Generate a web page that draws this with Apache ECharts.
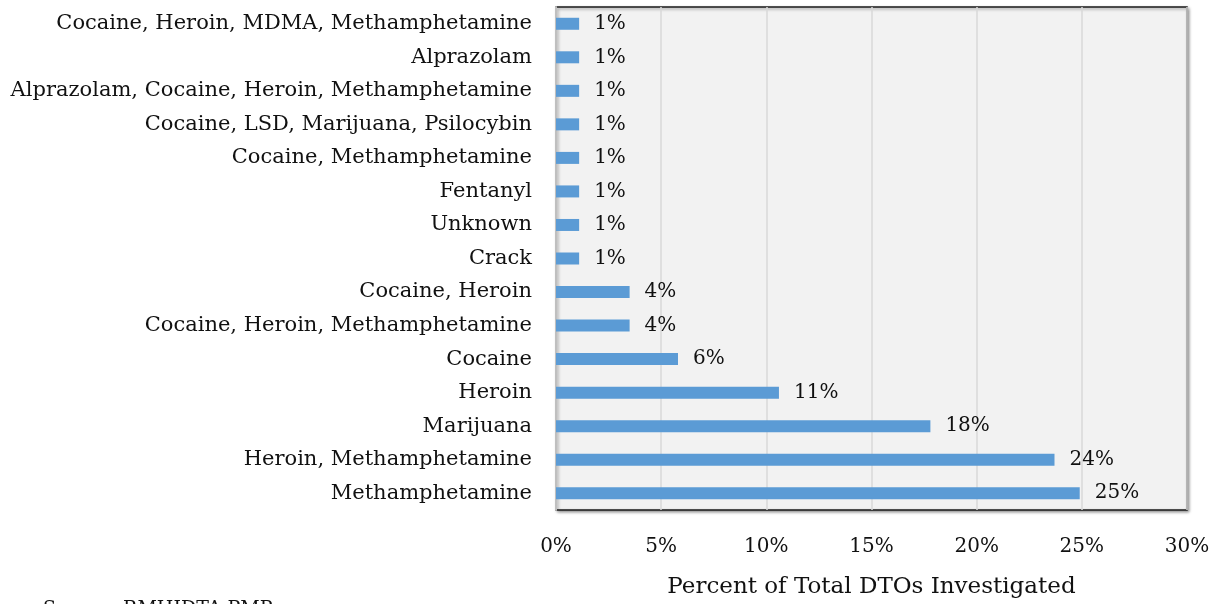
<!DOCTYPE html>
<html>
<head>
<meta charset="utf-8">
<script src="https://cdn.jsdelivr.net/npm/echarts@6/dist/echarts.min.js"></script>
<style>
  html, body { margin: 0; padding: 0; background: #fff; }
  #chart { width: 1214px; height: 604px; }
</style>
</head>
<body>
<div id="chart"></div>
<script>
// categories, top to bottom
const categories = [
  'Cocaine, Heroin, MDMA, Methamphetamine',
  'Alprazolam',
  'Alprazolam, Cocaine, Heroin, Methamphetamine',
  'Cocaine, LSD, Marijuana, Psilocybin',
  'Cocaine, Methamphetamine',
  'Fentanyl',
  'Unknown',
  'Crack',
  'Cocaine, Heroin',
  'Cocaine, Heroin, Methamphetamine',
  'Cocaine',
  'Heroin',
  'Marijuana',
  'Heroin, Methamphetamine',
  'Methamphetamine'
];
// percent of DTOs
const percents = [1.1, 1.1, 1.1, 1.1, 1.1, 1.1, 1.1, 1.1, 3.5, 3.5, 5.8, 10.6, 17.8, 23.7, 24.9];
const xTicks = [0, 5, 10, 15, 20, 25, 30];

const font = '"DejaVu Serif", "Liberation Serif", serif';
const chart = echarts.init(document.getElementById('chart'));

chart.setOption({
  animation: false,
  grid: {
    left: 556, right: 27, top: 7, bottom: 84,
    show: true,
    backgroundColor: '#f2f2f2',
    borderColor: '#1a1a1a',
    borderWidth: 1.5,
    shadowColor: 'rgba(0,0,0,0.4)',
    shadowBlur: 3,
    shadowOffsetX: 1.5,
    shadowOffsetY: 1.5
  },
  xAxis: {
    type: 'value',
    min: xTicks[0],
    max: xTicks[xTicks.length - 1],
    interval: 5,
    name: 'Percent of Total DTOs Investigated',
    nameLocation: 'middle',
    nameGap: 66,
    nameTextStyle: { fontFamily: font, fontSize: 23, color: '#111' },
    axisLine: { show: false },
    axisTick: { show: false },
    axisLabel: {
      formatter: v => v + '%',
      fontFamily: font, fontSize: 20, color: '#111', margin: 27
    },
    splitLine: { show: true, lineStyle: { color: '#d9d9d9', width: 1.5 } }
  },
  yAxis: {
    type: 'category',
    inverse: true,
    data: categories,
    axisLine: { show: true, lineStyle: { color: '#bfbfbf', width: 2 } },
    axisTick: { show: false },
    axisLabel: { fontFamily: font, fontSize: 21, color: '#111', margin: 24 }
  },
  series: [{
    type: 'bar',
    data: percents,
    barWidth: 12,
    itemStyle: { color: '#5b9bd5' },
    label: {
      show: true,
      position: 'right',
      distance: 15,
      formatter: p => Math.round(p.value) + '%',
      fontFamily: font, fontSize: 20, color: '#111'
    }
  }],
  graphic: [{
    type: 'text',
    left: 43, top: 600,
    style: { text: 'Source: RMHIDTA PMP', font: '19px ' + font, fill: '#111' }
  }]
});
</script>
</body>
</html>
